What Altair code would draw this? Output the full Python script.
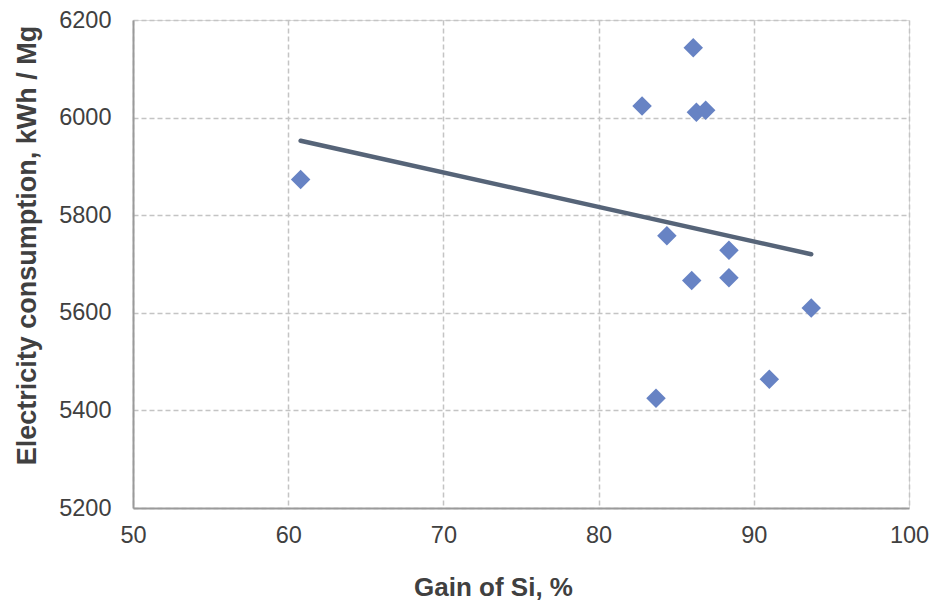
import altair as alt
import pandas as pd

gain_si = [60.8, 86.1, 82.8, 86.3, 86.9, 84.4, 88.4, 86.0, 88.4, 93.7, 91.0, 83.7]
electricity = [5873, 6143, 6024, 6011, 6015, 5758, 5728, 5666, 5672, 5610, 5464, 5425]
x_ticks = [50, 60, 70, 80, 90, 100]
y_ticks = [5200, 5400, 5600, 5800, 6000, 6200]

df = pd.DataFrame({"gain": gain_si, "elec": electricity})

FONT = "Liberation Sans"

x_enc = alt.X(
    "gain:Q",
    scale=alt.Scale(domain=[50, 100], nice=False, zero=False),
    axis=alt.Axis(
        title="Gain of Si, %",
        values=x_ticks,
        format="d",
        ticks=False,
        labelPadding=15,
        labelFontSize=23.5,
        labelColor="#404040",
        labelFont=FONT,
        titleFont=FONT,
        titleFontSize=26,
        titleFontWeight="bold",
        titleColor="#404040",
        titleX=360,
        titleY=87,
        titleAlign="center",
        titleBaseline="alphabetic",
        grid=True,
        gridDash=[5, 3],
        gridColor="#c4c4c4",
        gridWidth=1.5,
        domainColor="#9a9a9a",
        domainWidth=2,
        labelFlush=False,
    ),
)
y_enc = alt.Y(
    "elec:Q",
    scale=alt.Scale(domain=[5200, 6200], nice=False, zero=False),
    axis=alt.Axis(
        title="Electricity consumption, kWh / Mg",
        values=y_ticks,
        format="d",
        ticks=False,
        labelPadding=22,
        labelFontSize=23.5,
        labelColor="#404040",
        labelFont=FONT,
        titleFont=FONT,
        titleFontSize=27,
        titleFontWeight="bold",
        titleColor="#404040",
        titleAngle=270,
        titleX=-98,
        titleY=225,
        titleAlign="center",
        titleBaseline="alphabetic",
        grid=True,
        gridDash=[5, 3],
        gridColor="#c4c4c4",
        gridWidth=1.5,
        domainColor="#9a9a9a",
        domainWidth=2,
        labelFlush=False,
    ),
)

points = alt.Chart(df).mark_point(
    shape="diamond", filled=True, size=380, color="#6783C4", opacity=1
).encode(x=x_enc, y=y_enc)

trend = alt.Chart(df).transform_regression("gain", "elec").mark_line(
    color="#566478", strokeWidth=4.5, strokeCap="round"
).encode(x=x_enc, y=y_enc)

chart = alt.layer(points, trend).properties(
    width=776,
    height=488,
    autosize=alt.AutoSizeParams(type="none"),
    padding={"left": 133, "top": 20, "right": 23, "bottom": 95},
).configure_view(
    stroke="#595959", strokeWidth=2
).configure(background="white")

chart.save("out.html", embed_options={"renderer": "svg", "actions": False})
